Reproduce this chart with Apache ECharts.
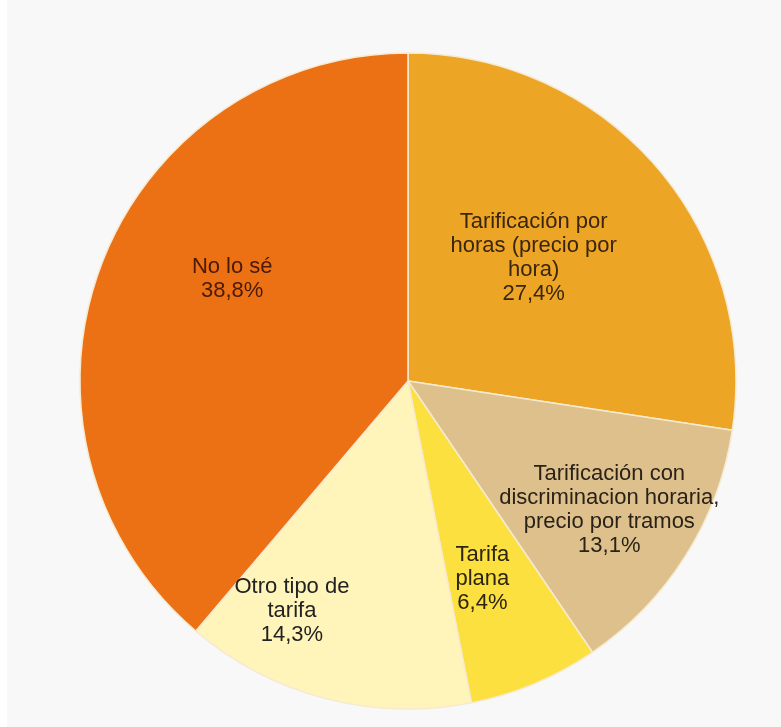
<!DOCTYPE html>
<html><head><meta charset="utf-8">
<script src="https://cdn.jsdelivr.net/npm/echarts@6/dist/echarts.min.js"></script>
<style>html,body{margin:0;padding:0;background:#f8f8f8;}#c{width:781px;height:727px;}</style>
</head><body><div id="c"></div>
<script>
const categories = ["Tarificación por\nhoras (precio por\nhora)", "Tarificación con\ndiscriminacion horaria,\nprecio por tramos", "Tarifa\nplana", "Otro tipo de\ntarifa", "No lo sé"];
const values = [27.4, 13.1, 6.4, 14.3, 38.8];
const colors = ["#EDA526", "#DDC08B", "#FBE03F", "#FFF4BA", "#EC7115"];
const textColors = ["#3a2510", "#2a2218", "#2a2410", "#222222", "#4a1a05"];
const labelOffsets = [[-1, -14], [60, 40], [10, 44], [-74, 68], [-19, -45]];

const chart = echarts.init(document.getElementById('c'));
chart.setOption({
  backgroundColor: '#f8f8f8',
  animation: false,
  graphic: [{ type: 'rect', shape: { x: 0, y: 0, width: 7, height: 727 }, style: { fill: '#ffffff' }, silent: true }],
  series: [{
    type: 'pie',
    center: [408, 381],
    radius: [0, 328],
    startAngle: 90,
    clockwise: true,
    avoidLabelOverlap: false,
    labelLayout: { hideOverlap: false },
    itemStyle: { borderColor: '#f6ead0', borderWidth: 1.5 },
    label: {
      show: true,
      position: 'inside',
      fontFamily: 'Liberation Sans, Arial, sans-serif',
      fontSize: 22,
      lineHeight: 24,
      align: 'center',
      formatter: p => p.name + '\n' + p.value.toFixed(1).replace('.', ',') + '%'
    },
    labelLine: { show: false },
    data: categories.map((c, i) => ({
      name: c, value: values[i],
      itemStyle: { color: colors[i] },
      label: { color: textColors[i], offset: labelOffsets[i] }
    }))
  }]
});
</script></body></html>
